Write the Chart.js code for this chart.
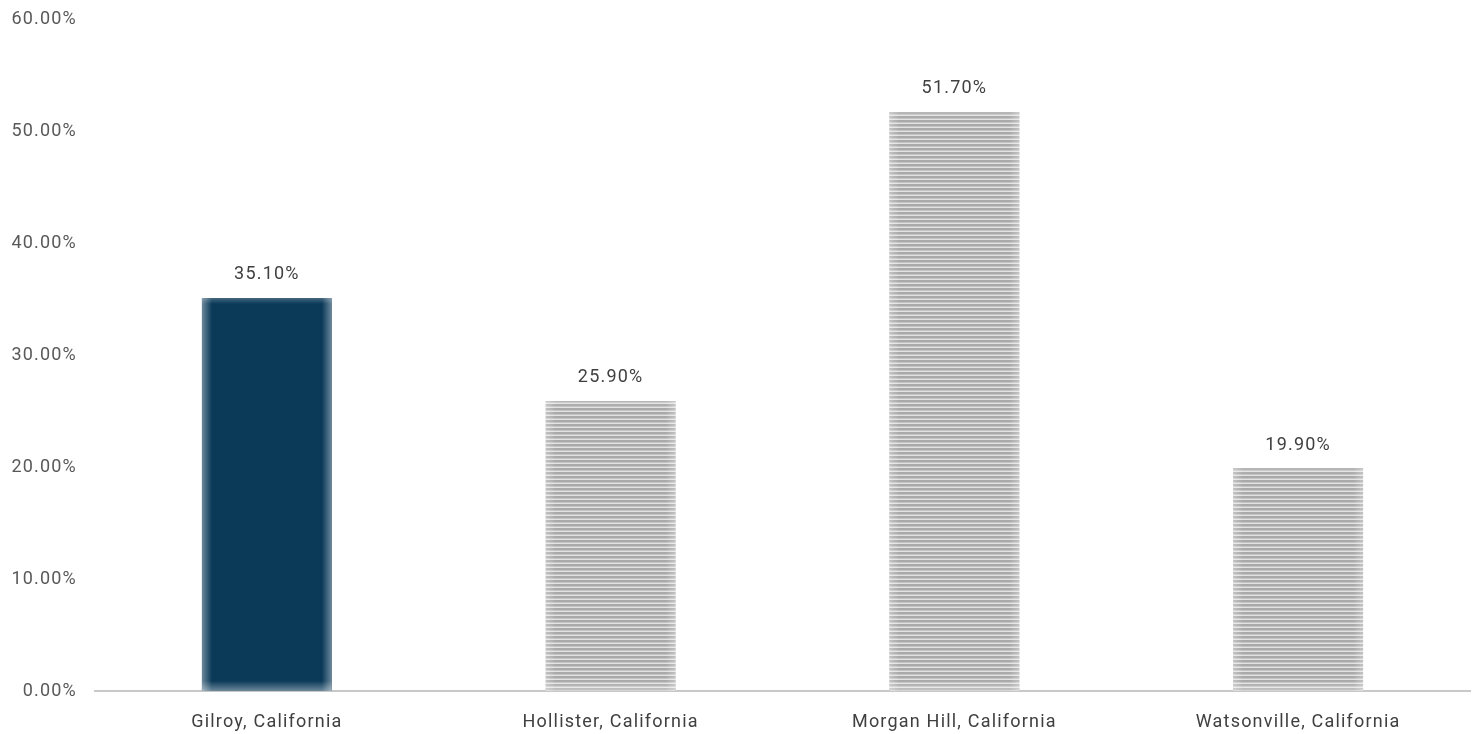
<!DOCTYPE html>
<html>
<head>
<meta charset="utf-8">
<script src="https://cdn.jsdelivr.net/npm/chart.js@4.4.1/dist/chart.umd.min.js"></script>
<style>
  html, body { margin: 0; padding: 0; background: #ffffff; }
  #wrap { width: 1478px; height: 734px; }
</style>
</head>
<body>
<div id="wrap"><canvas id="chart" width="1478" height="734"></canvas></div>
<script>
// Share of residents by city
const cities = ['Gilroy, California', 'Hollister, California', 'Morgan Hill, California', 'Watsonville, California'];
const shares = [35.1, 25.9, 51.7, 19.9];
const yTicks = [0, 10, 20, 30, 40, 50, 60];

const FONT = 'Roboto, "Open Sans", sans-serif';
const SPACING = '1.2px';

// Horizontal pin-stripe fill for the comparison cities
function stripePattern() {
  const c = document.createElement('canvas');
  c.width = 4; c.height = 4;
  const g = c.getContext('2d');
  g.fillStyle = '#a9a9a9'; g.fillRect(0, 0, 4, 2);
  g.fillStyle = '#c4c4c4'; g.fillRect(0, 2, 4, 1);
  g.fillStyle = '#e2e2e2'; g.fillRect(0, 3, 4, 1);
  return g.createPattern(c, 'repeat');
}
const stripes = stripePattern();
const fills = cities.map((_, i) => i === 0 ? '#0b3a59' : stripes);

// Slightly tracked-out lettering for all chart text
const tracking = {
  id: 'tracking',
  beforeInit(chart) { chart.ctx.letterSpacing = SPACING; },
  beforeDraw(chart) { chart.ctx.letterSpacing = SPACING; }
};

// Soft light glow along the inner edges of each bar
const innerGlow = {
  id: 'innerGlow',
  afterDatasetsDraw(chart) {
    const ctx = chart.ctx;
    chart.getDatasetMeta(0).data.forEach((bar, i) => {
      const { x, y, base, width } = bar.getProps(['x', 'y', 'base', 'width'], true);
      const l = x - width / 2, r = x + width / 2, t = y, b = base;
      const strong = i === 0 ? 0.4 : 0.3;
      const d = 10;
      ctx.save();
      ctx.beginPath(); ctx.rect(l, t, r - l, b - t); ctx.clip();
      let g = ctx.createLinearGradient(l, 0, l + d, 0);
      g.addColorStop(0, `rgba(255,255,255,${strong})`); g.addColorStop(1, 'rgba(255,255,255,0)');
      ctx.fillStyle = g; ctx.fillRect(l, t, d, b - t);
      g = ctx.createLinearGradient(r, 0, r - d, 0);
      g.addColorStop(0, `rgba(255,255,255,${strong})`); g.addColorStop(1, 'rgba(255,255,255,0)');
      ctx.fillStyle = g; ctx.fillRect(r - d, t, d, b - t);
      g = ctx.createLinearGradient(0, b, 0, b - d);
      g.addColorStop(0, `rgba(255,255,255,${strong})`); g.addColorStop(1, 'rgba(255,255,255,0)');
      ctx.fillStyle = g; ctx.fillRect(l, b - d, r - l, d);
      g = ctx.createLinearGradient(0, t, 0, t + 6);
      g.addColorStop(0, `rgba(255,255,255,${strong * 0.6})`); g.addColorStop(1, 'rgba(255,255,255,0)');
      ctx.fillStyle = g; ctx.fillRect(l, t, r - l, 6);
      ctx.restore();
    });
  }
};

// Value labels above each bar
const valueLabels = {
  id: 'valueLabels',
  afterDatasetsDraw(chart) {
    const ctx = chart.ctx;
    const ds = chart.data.datasets[0];
    ctx.save();
    ctx.letterSpacing = SPACING;
    ctx.font = `18px ${FONT}`;
    ctx.fillStyle = '#404040';
    ctx.textAlign = 'center';
    ctx.textBaseline = 'middle';
    chart.getDatasetMeta(0).data.forEach((bar, i) => {
      ctx.fillText(ds.data[i].toFixed(2) + '%', bar.x, bar.y - 23);
    });
    ctx.restore();
  }
};

new Chart(document.getElementById('chart'), {
  type: 'bar',
  data: {
    labels: cities,
    datasets: [{
      data: shares,
      backgroundColor: fills,
      borderWidth: 0,
      categoryPercentage: 1,
      barPercentage: 0.378
    }]
  },
  options: {
    responsive: false,
    animation: false,
    layout: { padding: { top: 19, right: 8, left: 0, bottom: 0 } },
    plugins: { legend: { display: false }, tooltip: { enabled: false } },
    scales: {
      x: {
        grid: { display: false },
        border: { display: true, color: '#c8c8c8', width: 2 },
        ticks: { color: '#404040', font: { family: FONT, size: 18 }, padding: 13 },
        afterFit(scale) { scale.paddingLeft = 0; scale.paddingRight = 0; scale.height = 43; }
      },
      y: {
        min: 0, max: 60,
        afterBuildTicks(scale) { scale.ticks = yTicks.map(v => ({ value: v })); },
        grid: { display: false },
        border: { display: false },
        ticks: {
          color: '#595959',
          font: { family: FONT, size: 18 },
          padding: 10,
          callback: v => Number(v).toFixed(2) + '%'
        },
        afterFit(scale) { scale.paddingTop = 0; scale.paddingBottom = 0; scale.width = 95; }
      }
    }
  },
  plugins: [tracking, innerGlow, valueLabels]
});
</script>
</body>
</html>
